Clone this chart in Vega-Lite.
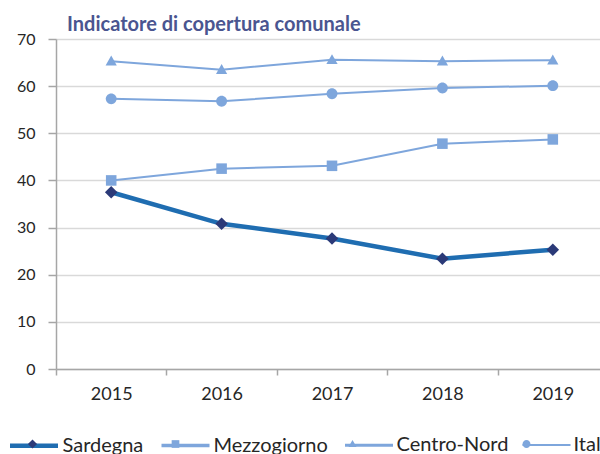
{
  "$schema": "https://vega.github.io/schema/vega-lite/v6.json",
  "width": 544,
  "height": 330,
  "autosize": {"type": "none"},
  "padding": {"left": 56, "top": 39, "right": 0, "bottom": 85},
  "background": "white",
  "config": {"font": "Lato", "view": {"stroke": null}},
  "title": {
    "text": "Indicatore di copertura comunale",
    "anchor": "start",
    "frame": "group",
    "dx": 11,
    "offset": -20,
    "baseline": "alphabetic",
    "font": "Lato",
    "fontSize": 20,
    "fontWeight": "bold",
    "color": "#4A5590"
  },
  "data": {
    "values": [
      {"anno": "2015", "serie": "Centro-Nord", "code": "C", "valore": 65.3},
      {"anno": "2016", "serie": "Centro-Nord", "code": "C", "valore": 63.5},
      {"anno": "2017", "serie": "Centro-Nord", "code": "C", "valore": 65.6},
      {"anno": "2018", "serie": "Centro-Nord", "code": "C", "valore": 65.3},
      {"anno": "2019", "serie": "Centro-Nord", "code": "C", "valore": 65.5},
      {"anno": "2015", "serie": "Italia", "code": "D", "valore": 57.3},
      {"anno": "2016", "serie": "Italia", "code": "D", "valore": 56.8},
      {"anno": "2017", "serie": "Italia", "code": "D", "valore": 58.4},
      {"anno": "2018", "serie": "Italia", "code": "D", "valore": 59.6},
      {"anno": "2019", "serie": "Italia", "code": "D", "valore": 60.1},
      {"anno": "2015", "serie": "Mezzogiorno", "code": "B", "valore": 40.0},
      {"anno": "2016", "serie": "Mezzogiorno", "code": "B", "valore": 42.5},
      {"anno": "2017", "serie": "Mezzogiorno", "code": "B", "valore": 43.1},
      {"anno": "2018", "serie": "Mezzogiorno", "code": "B", "valore": 47.8},
      {"anno": "2019", "serie": "Mezzogiorno", "code": "B", "valore": 48.7},
      {"anno": "2015", "serie": "Sardegna", "code": "A", "valore": 37.5},
      {"anno": "2016", "serie": "Sardegna", "code": "A", "valore": 30.8},
      {"anno": "2017", "serie": "Sardegna", "code": "A", "valore": 27.7},
      {"anno": "2018", "serie": "Sardegna", "code": "A", "valore": 23.4},
      {"anno": "2019", "serie": "Sardegna", "code": "A", "valore": 25.3}
    ]
  },
  "encoding": {
    "x": {
      "field": "anno",
      "type": "ordinal",
      "scale": {"type": "band", "range": [0, 552], "paddingInner": 0, "paddingOuter": 0},
      "axis": {
        "title": null,
        "labelAngle": 0,
        "tickBand": "extent",
        "grid": false,
        "domainColor": "#A6A6A6",
        "domainWidth": 1.5,
        "tickColor": "#A6A6A6",
        "tickWidth": 1.5,
        "tickSize": 6,
        "labelFont": "Lato",
        "labelFontSize": 18,
        "labelColor": "#262626",
        "labelPadding": 10
      }
    },
    "y": {
      "field": "valore",
      "type": "quantitative",
      "scale": {"domain": [0, 70], "nice": false},
      "axis": {
        "title": null,
        "values": [0, 10, 20, 30, 40, 50, 60, 70],
        "grid": true,
        "gridColor": "#D9D9D9",
        "gridWidth": 1.5,
        "domainColor": "#A6A6A6",
        "domainWidth": 1.5,
        "tickColor": "#A6A6A6",
        "tickWidth": 1.5,
        "tickSize": 8,
        "labelPadding": 13,
        "labelFont": "Lato",
        "labelFontSize": 16,
        "labelColor": "#262626"
      }
    }
  },
  "layer": [
    {
      "transform": [{"filter": "false"}],
      "mark": {"type": "line"},
      "encoding": {
        "color": {
          "field": "serie",
          "type": "nominal",
          "scale": {
            "domain": ["Sardegna", "Mezzogiorno", "Centro-Nord", "Italia"],
            "range": ["#1F6DB1", "#7EA6DC", "#7EA6DC", "#7EA6DC"]
          },
          "legend": {
            "title": null,
            "orient": "none",
            "direction": "horizontal",
            "legendX": -48.5,
            "legendY": 380,
            "symbolType": "stroke",
            "symbolSize": 2304,
            "labelFont": "Lato",
            "labelFontSize": 20,
            "labelColor": "#262626",
            "labelOffset": 2,
            "columnPadding": 10,
            "padding": 0,
            "zindex": 0,
            "encode": {
              "symbols": {
                "update": {
                  "strokeWidth": {"signal": "datum.value === 'Sardegna' ? 4.5 : 2"}
                }
              }
            }
          }
        },
        "strokeWidth": {
          "field": "serie",
          "type": "ordinal",
          "scale": {
            "domain": ["Sardegna", "Mezzogiorno", "Centro-Nord", "Italia"],
            "range": [4.5, 2, 2, 2]
          },
          "legend": null
        }
      }
    },
    {
      "mark": {"type": "line"},
      "encoding": {
        "stroke": {
          "field": "serie",
          "type": "nominal",
          "scale": {
            "domain": ["Sardegna", "Mezzogiorno", "Centro-Nord", "Italia"],
            "range": ["#1F6DB1", "#7EA6DC", "#7EA6DC", "#7EA6DC"]
          },
          "legend": null
        },
        "strokeWidth": {
          "condition": {"test": "datum.serie === 'Sardegna'", "value": 4.5},
          "value": 2
        }
      }
    },
    {
      "mark": {"type": "point", "filled": true, "opacity": 1, "size": 4356, "strokeWidth": 0},
      "encoding": {
        "shape": {
          "field": "code",
          "type": "nominal",
          "scale": {
            "domain": ["A", "B", "C", "D"],
            "range": [
              "M0,-0.19L0.19,0L0,0.19L-0.19,0Z",
              "M-0.16,-0.16L0.16,-0.16L0.16,0.16L-0.16,0.16Z",
              "M0,-0.17L0.17,0.13L-0.17,0.13Z",
              "M-0.165,0A0.165,0.165,0,1,0,0.165,0A0.165,0.165,0,1,0,-0.165,0Z"
            ]
          },
          "legend": {
            "title": null,
            "orient": "none",
            "direction": "horizontal",
            "legendX": -48.5,
            "legendY": 380,
            "symbolSize": 2304,
            "labelFont": "Lato",
            "labelFontSize": 20,
            "labelOpacity": 0,
            "labelOffset": 2,
            "columnPadding": 10,
            "padding": 0,
            "zindex": 1,
            "labelExpr": "{'A':'Sardegna','B':'Mezzogiorno','C':'Centro-Nord','D':'Italia'}[datum.label]",
            "encode": {
              "symbols": {
                "update": {
                  "strokeWidth": {"signal": "datum.value === 'A' ? 4.5 : 2"},
                  "stroke": {"value": "transparent"}
                }
              }
            }
          }
        },
        "fill": {
          "field": "code",
          "type": "nominal",
          "scale": {
            "domain": ["A", "B", "C", "D"],
            "range": ["#2B3A78", "#7EA6DC", "#7EA6DC", "#7EA6DC"]
          },
          "legend": {
            "title": null,
            "orient": "none",
            "direction": "horizontal",
            "legendX": -48.5,
            "legendY": 380,
            "symbolSize": 2304,
            "labelFont": "Lato",
            "labelFontSize": 20,
            "labelOpacity": 0,
            "labelOffset": 2,
            "columnPadding": 10,
            "padding": 0,
            "zindex": 1,
            "labelExpr": "{'A':'Sardegna','B':'Mezzogiorno','C':'Centro-Nord','D':'Italia'}[datum.label]",
            "encode": {
              "symbols": {
                "update": {
                  "strokeWidth": {"signal": "datum.value === 'A' ? 4.5 : 2"},
                  "stroke": {"value": "transparent"}
                }
              }
            }
          }
        }
      }
    }
  ]
}
